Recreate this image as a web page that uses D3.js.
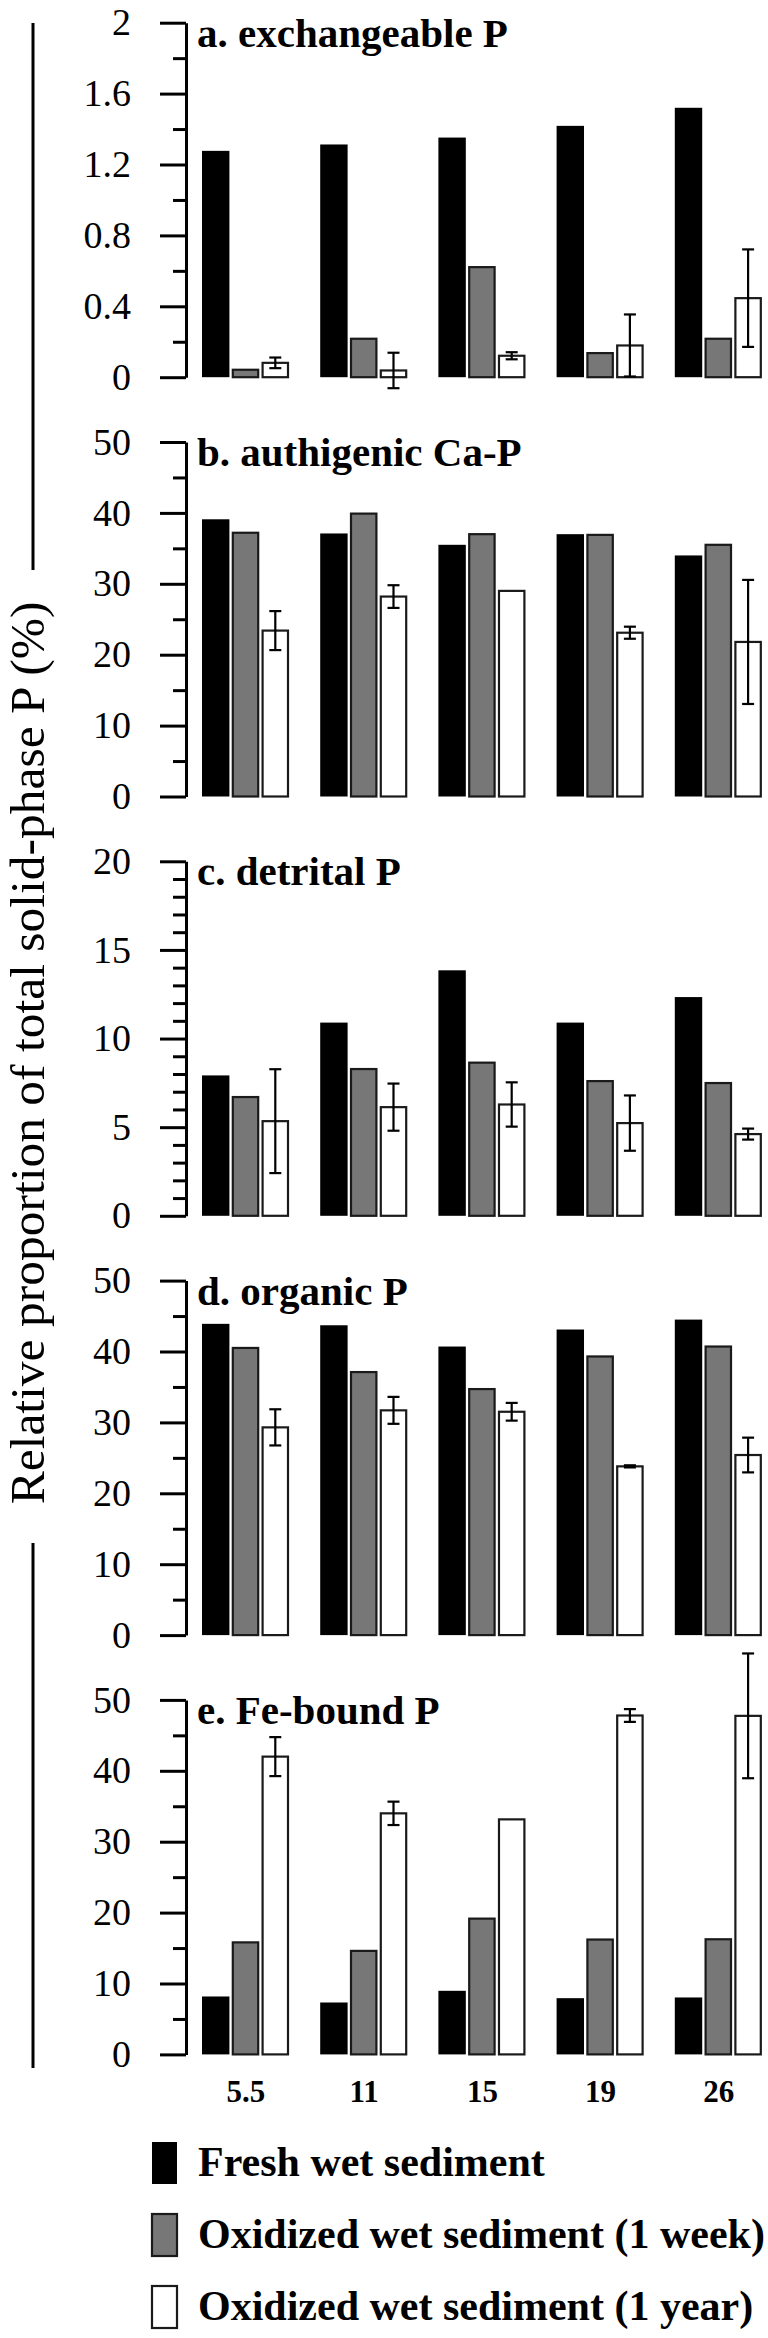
<!DOCTYPE html>
<html>
<head>
<meta charset="utf-8">
<script src="https://cdn.jsdelivr.net/npm/d3@7"></script>
<style>
  html, body { margin: 0; padding: 0; background: #fff; }
  svg { display: block; }
</style>
</head>
<body>
<svg id="chart" width="768" height="2338"></svg>
<script>
// ---------- data ----------
const depths = ["5.5", "11", "15", "19", "26"];
const seriesNames = ["Fresh wet sediment", "Oxidized wet sediment (1 week)", "Oxidized wet sediment (1 year)"];
const panelTitles = ["a. exchangeable P", "b. authigenic Ca-P", "c. detrital P", "d. organic P", "e. Fe-bound P"];
const yTitle = "Relative proportion of total solid-phase P (%)";

// a. exchangeable P
const exchFresh   = [1.277, 1.313, 1.352, 1.418, 1.520];
const exchWeek    = [0.042, 0.217, 0.621, 0.136, 0.217];
const exchYear    = [0.081, 0.038, 0.121, 0.179, 0.446];
const exchYearErr = [0.030, 0.100, 0.020, 0.175, 0.275];
// b. authigenic Ca-P
const caFresh   = [39.1, 37.1, 35.5, 37.0, 34.0];
const caWeek    = [37.2, 39.9, 37.0, 36.9, 35.5];
const caYear    = [23.4, 28.2, 29.0, 23.1, 21.8];
const caYearErr = [2.75, 1.6, 0, 0.85, 8.75];
// c. detrital P
const detFresh   = [7.92, 10.9, 13.85, 10.9, 12.34];
const detWeek    = [6.70, 8.28, 8.64, 7.60, 7.49];
const detYear    = [5.34, 6.13, 6.28, 5.23, 4.61];
const detYearErr = [2.93, 1.33, 1.25, 1.56, 0.31];
// d. organic P
const orgFresh   = [43.9, 43.7, 40.7, 43.1, 44.5];
const orgWeek    = [40.5, 37.1, 34.7, 39.3, 40.7];
const orgYear    = [29.3, 31.7, 31.5, 23.8, 25.4];
const orgYearErr = [2.55, 1.9, 1.25, 0.15, 2.45];
// e. Fe-bound P
const feFresh   = [8.17, 7.32, 8.97, 7.93, 8.03];
const feWeek    = [15.8, 14.6, 19.15, 16.2, 16.24];
const feYear    = [42.0, 34.0, 33.15, 47.8, 47.75];
const feYearErr = [2.75, 1.65, 0, 0.9, 8.8];

// axis ticks
const yMax = [2, 50, 20, 50, 50];
const majorTicks = [
  [0, 0.4, 0.8, 1.2, 1.6, 2],
  [0, 10, 20, 30, 40, 50],
  [0, 5, 10, 15, 20],
  [0, 10, 20, 30, 40, 50],
  [0, 10, 20, 30, 40, 50]
];
const majorTickLabels = [
  ["0", "0.4", "0.8", "1.2", "1.6", "2"],
  ["0", "10", "20", "30", "40", "50"],
  ["0", "5", "10", "15", "20"],
  ["0", "10", "20", "30", "40", "50"],
  ["0", "10", "20", "30", "40", "50"]
];
const minorTicks = [
  [0.2, 0.6, 1.0, 1.4, 1.8],
  [5, 15, 25, 35, 45],
  [1, 2, 3, 4, 6, 7, 8, 9, 11, 12, 13, 14, 16, 17, 18, 19],
  [5, 15, 25, 35, 45],
  [5, 15, 25, 35, 45]
];

const panels = [
  [exchFresh, exchWeek, exchYear, exchYearErr],
  [caFresh, caWeek, caYear, caYearErr],
  [detFresh, detWeek, detYear, detYearErr],
  [orgFresh, orgWeek, orgYear, orgYearErr],
  [feFresh, feWeek, feYear, feYearErr]
];

const fills = ["#000000", "#777777", "#ffffff"];
const strokes = ["#000000", "#1a1a1a", "#1a1a1a"];
const FONT = "'Liberation Serif', 'Times New Roman', Times, serif";

// ---------- layout ----------
const svg = d3.select("#chart");
svg.append("rect").attr("width", 768).attr("height", 2338).attr("fill", "#fff");
const axisX = 186;
const panelTop0 = 22.7, panelStep = 419.3, panelH = 354.5;

const x0 = d3.scaleBand().domain(depths).range([202, 762.8]).paddingInner(0.2555).paddingOuter(0);
const x1 = d3.scaleBand().domain([0, 1, 2]).range([0, 87]).paddingInner(0.08);

panels.forEach((p, pi) => {
  const top = panelTop0 + pi * panelStep;
  const y = d3.scaleLinear().domain([0, yMax[pi]]).range([top + panelH, top]);
  const g = svg.append("g");

  // major axis
  const axMaj = d3.axisLeft(y).tickValues(majorTicks[pi])
    .tickFormat((d, i) => majorTickLabels[pi][i])
    .tickSize(26).tickSizeOuter(0).tickPadding(29);
  const ga = g.append("g").attr("transform", `translate(${axisX},0)`).call(axMaj)
    .attr("font-family", null).attr("font-size", null);
  ga.select(".domain").attr("stroke", "#000").attr("stroke-width", 3);
  ga.selectAll(".tick line").attr("stroke", "#000").attr("stroke-width", 3);
  ga.selectAll(".tick text")
    .style("font-family", FONT).style("font-size", "38px").attr("fill", "#000");

  // minor ticks
  const axMin = d3.axisLeft(y).tickValues(minorTicks[pi]).tickFormat("").tickSize(13).tickSizeOuter(0);
  const gm = g.append("g").attr("transform", `translate(${axisX},0)`).call(axMin);
  gm.select(".domain").remove();
  gm.selectAll(".tick line").attr("stroke", "#000").attr("stroke-width", 3);

  // bars
  const [fr, wk, yr, err] = p;
  const series = [fr, wk, yr];
  series.forEach((vals, si) => {
    g.append("g").selectAll("rect").data(vals).join("rect")
      .attr("x", (d, i) => x0(depths[i]) + x1(si) + (si ? 1 : 0))
      .attr("y", d => y(d))
      .attr("width", x1.bandwidth() - (si ? 2 : 0))
      .attr("height", d => y(0) - y(d))
      .attr("fill", fills[si])
      .attr("stroke", si ? strokes[si] : "none")
      .attr("stroke-width", 2.2);
  });

  // error bars on 1-year series
  const eg = g.append("g").attr("stroke", "#000").attr("stroke-width", 2.2);
  yr.forEach((v, i) => {
    const e = err[i];
    if (!e) return;
    const cx = x0(depths[i]) + x1(2) + x1.bandwidth() / 2;
    eg.append("line").attr("x1", cx).attr("x2", cx).attr("y1", y(v - e)).attr("y2", y(v + e));
    eg.append("line").attr("x1", cx - 6).attr("x2", cx + 6).attr("y1", y(v + e)).attr("y2", y(v + e));
    eg.append("line").attr("x1", cx - 6).attr("x2", cx + 6).attr("y1", y(v - e)).attr("y2", y(v - e));
  });

  // panel title
  g.append("text").attr("x", 197).attr("y", top + 24)
    .style("font-family", FONT).style("font-size", "41px").style("font-weight", "bold")
    .text(panelTitles[pi]);
});

// x-axis category labels
svg.append("g").selectAll("text").data(depths).join("text")
  .attr("x", d => x0(d) + x0.bandwidth() / 2)
  .attr("y", 2102)
  .attr("text-anchor", "middle")
  .style("font-family", FONT).style("font-size", "31px").style("font-weight", "bold")
  .text(d => d);

// y-axis title with side lines
svg.append("text")
  .attr("transform", "translate(44,1053) rotate(-90)")
  .attr("text-anchor", "middle")
  .style("font-family", FONT).style("font-size", "49.5px")
  .text(yTitle);
svg.append("line").attr("x1", 33).attr("x2", 33).attr("y1", 23).attr("y2", 570)
  .attr("stroke", "#000").attr("stroke-width", 3);
svg.append("line").attr("x1", 33).attr("x2", 33).attr("y1", 1543).attr("y2", 2068)
  .attr("stroke", "#000").attr("stroke-width", 3);

// legend
const leg = svg.append("g");
seriesNames.forEach((name, si) => {
  const ly = 2142 + si * 72;
  leg.append("rect").attr("x", 152).attr("y", ly).attr("width", 25).attr("height", 42)
    .attr("fill", fills[si]).attr("stroke", si ? strokes[si] : "none").attr("stroke-width", 2.2);
  leg.append("text").attr("x", 198).attr("y", ly + 34)
    .style("font-family", FONT).style("font-size", "42px").style("font-weight", "bold")
    .text(name);
});
</script>
</body>
</html>
